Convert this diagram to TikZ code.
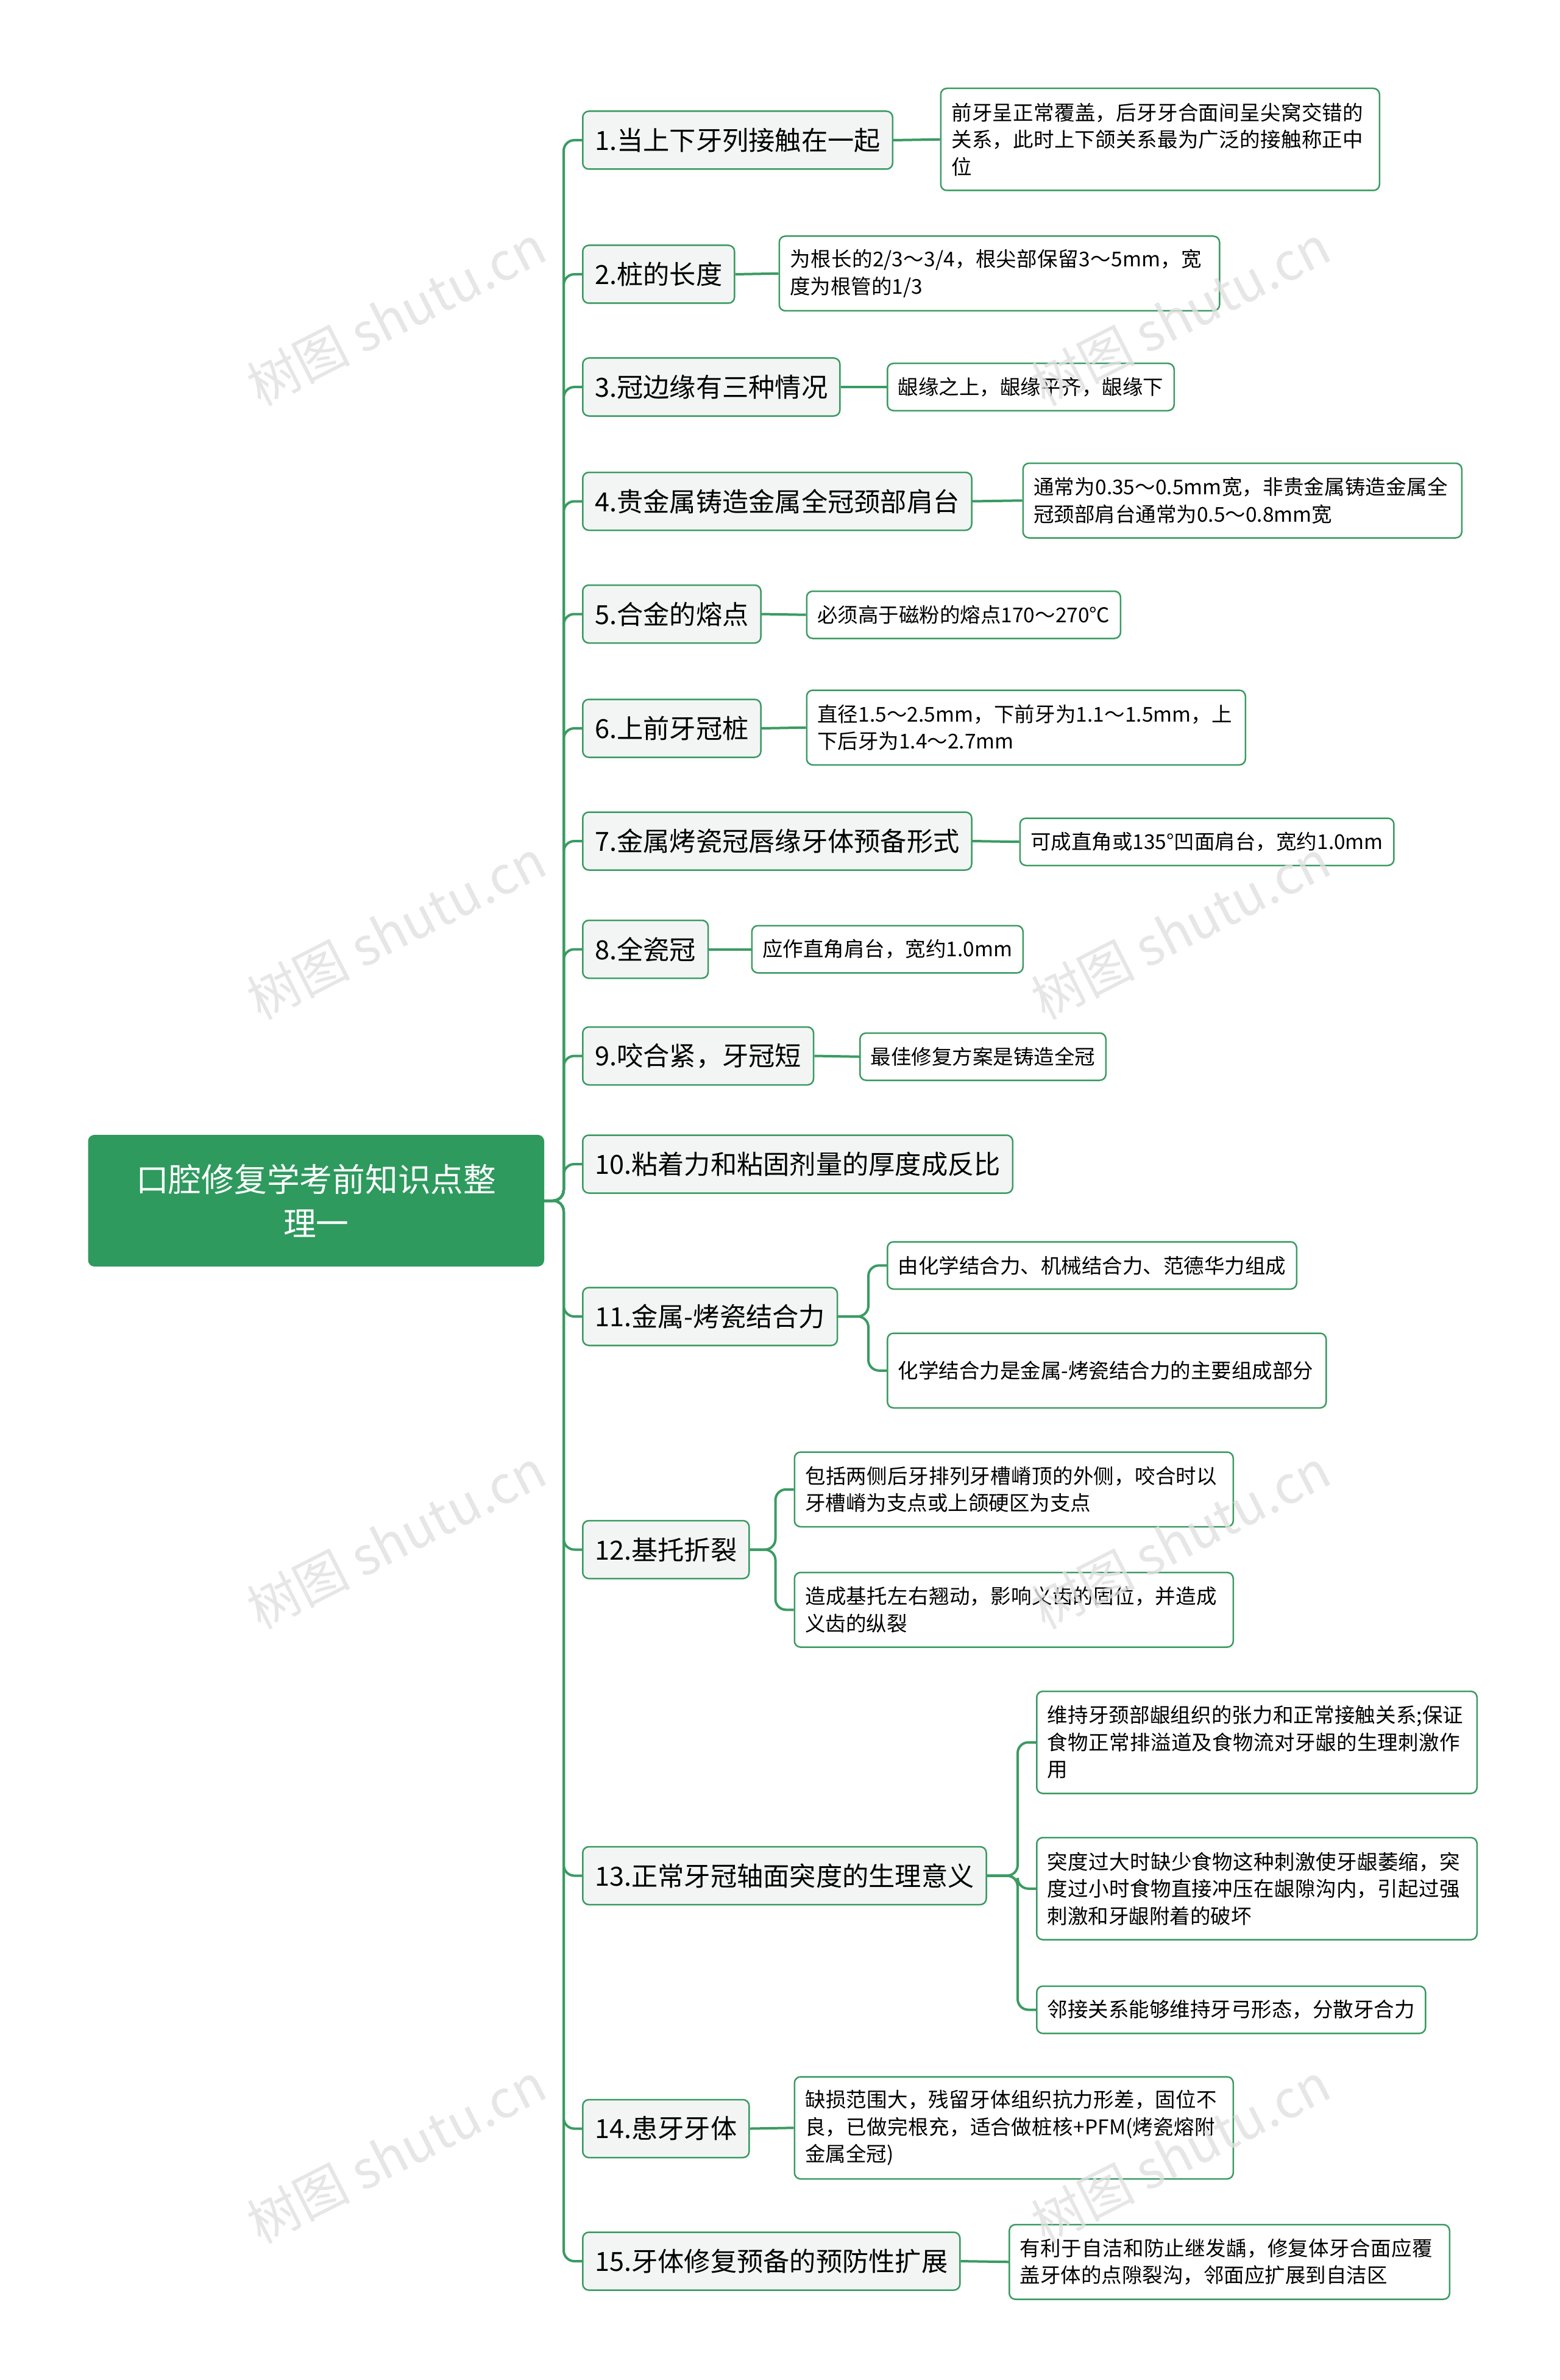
\documentclass[tikz,border=0pt]{standalone}
\usepackage{fontspec}
\setmainfont{Noto Sans CJK SC}
\XeTeXlinebreaklocale "zh"
\XeTeXlinebreakskip=0pt plus 1pt
\begin{document}
\begin{tikzpicture}[x=1pt,y=-1pt,
  rootbox/.style={fill=rootg, draw=rootg, rounded corners=4pt, text=white, font=\fontsize{21.5}{29}\selectfont, align=center, inner sep=0pt},
  brbox/.style={fill=brg, draw=lineg, line width=1pt, rounded corners=4pt, font=\fontsize{17.3}{21}\selectfont, anchor=west, inner xsep=8pt, minimum height=38pt},
  lfbox/.style={fill=white, draw=lineg, line width=1pt, rounded corners=4pt, font=\fontsize{13.4}{17.8}\selectfont, anchor=west, inner xsep=7pt, inner ysep=4pt, align=left},
  wm/.style={text=black!12, font=\fontsize{34}{34}\selectfont, rotate=27}]
\definecolor{rootg}{HTML}{2E9A5E}
\definecolor{lineg}{HTML}{3A9B62}
\definecolor{brg}{HTML}{F3F5F5}
\tikzset{conn/.style={draw=lineg, line width=1.6pt, rounded corners=7pt}}
\useasboundingbox (0,0) rectangle (1024,1562);
\fill[white] (0,0) rectangle (1024,1562);
\node[rootbox, minimum width=299pt, minimum height=86pt] (root) at (207.5,788) {口腔修复学考前知识点整\\理一};
\node[brbox] (b1) at (382,92) {1.当上下牙列接触在一起};
\node[brbox] (b2) at (382,180) {2.桩的长度};
\node[brbox] (b3) at (382,254) {3.冠边缘有三种情况};
\node[brbox] (b4) at (382,329) {4.贵金属铸造金属全冠颈部肩台};
\node[brbox] (b5) at (382,403) {5.合金的熔点};
\node[brbox] (b6) at (382,478) {6.上前牙冠桩};
\node[brbox] (b7) at (382,552) {7.金属烤瓷冠唇缘牙体预备形式};
\node[brbox] (b8) at (382,623) {8.全瓷冠};
\node[brbox] (b9) at (382,693) {9.咬合紧，牙冠短};
\node[brbox] (b10) at (382,764) {10.粘着力和粘固剂量的厚度成反比};
\node[brbox] (b11) at (382,864) {11.金属-烤瓷结合力};
\node[brbox] (b12) at (382,1017) {12.基托折裂};
\node[brbox] (b13) at (382,1231) {13.正常牙冠轴面突度的生理意义};
\node[brbox] (b14) at (382,1397) {14.患牙牙体};
\node[brbox] (b15) at (382,1484) {15.牙体修复预备的预防性扩展};
\foreach \i in {1,...,15}{\draw[conn] (root.east) -- (370,788) |- (b\i.west);}
\node[lfbox, text width=274pt, minimum height=67pt] (l1) at (617,91.5) {前牙呈正常覆盖，后牙牙合面间呈尖窝交错的关系，此时上下颌关系最为广泛的接触称正中位};
\node[lfbox, text width=275pt, minimum height=49pt] (l2) at (511,179.5) {为根长的2/3～3/4，根尖部保留3～5mm，宽度为根管的1/3};
\node[lfbox, minimum height=31pt] (l3) at (582,254) {龈缘之上，龈缘平齐，龈缘下};
\node[lfbox, text width=274pt, minimum height=49pt] (l4) at (671,328.5) {通常为0.35～0.5mm宽，非贵金属铸造金属全冠颈部肩台通常为0.5～0.8mm宽};
\node[lfbox, minimum height=31pt] (l5) at (529,403.5) {必须高于磁粉的熔点170～270℃};
\node[lfbox, text width=274pt, minimum height=49pt] (l6) at (529,477.5) {直径1.5～2.5mm，下前牙为1.1～1.5mm，上下后牙为1.4～2.7mm};
\node[lfbox, minimum height=31pt] (l7) at (669,552.5) {可成直角或135°凹面肩台，宽约1.0mm};
\node[lfbox, minimum height=31pt] (l8) at (493,623) {应作直角肩台，宽约1.0mm};
\node[lfbox, minimum height=31pt] (l9) at (564,693.5) {最佳修复方案是铸造全冠};
\node[lfbox, minimum height=31pt] (l11a) at (582,830.5) {由化学结合力、机械结合力、范德华力组成};
\node[lfbox, text width=274pt, minimum height=49pt] (l11b) at (582,899.5) {化学结合力是金属-烤瓷结合力的主要组成部分};
\node[lfbox, text width=274pt, minimum height=49pt] (l12a) at (521,977.5) {包括两侧后牙排列牙槽嵴顶的外侧，咬合时以牙槽嵴为支点或上颌硬区为支点};
\node[lfbox, text width=274pt, minimum height=49pt] (l12b) at (521,1056.5) {造成基托左右翘动，影响义齿的固位，并造成义齿的纵裂};
\node[lfbox, text width=275pt, minimum height=67pt] (l13a) at (680,1143.5) {维持牙颈部龈组织的张力和正常接触关系;保证食物正常排溢道及食物流对牙龈的生理刺激作用};
\node[lfbox, text width=275pt, minimum height=67pt] (l13b) at (680,1239.5) {突度过大时缺少食物这种刺激使牙龈萎缩，突度过小时食物直接冲压在龈隙沟内，引起过强刺激和牙龈附着的破坏};
\node[lfbox, minimum height=31pt] (l13c) at (680,1319) {邻接关系能够维持牙弓形态，分散牙合力};
\node[lfbox, text width=274pt, minimum height=67pt] (l14) at (521,1396.5) {缺损范围大，残留牙体组织抗力形差，固位不良，已做完根充，适合做桩核+PFM(烤瓷熔附金属全冠)};
\node[lfbox, text width=275pt, minimum height=49pt] (l15) at (662,1484.5) {有利于自洁和防止继发龋，修复体牙合面应覆盖牙体的点隙裂沟，邻面应扩展到自洁区};
\foreach \i in {1,...,9,14,15}{\draw[conn] (b\i.east) -- (l\i.west);}
\draw[conn] (b11.east) -- (570,864) |- (l11a.west);
\draw[conn] (b11.east) -- (570,864) |- (l11b.west);
\draw[conn] (b12.east) -- (509,1017) |- (l12a.west);
\draw[conn] (b12.east) -- (509,1017) |- (l12b.west);
\draw[conn] (b13.east) -- (668,1231) |- (l13a.west);
\draw[conn] (b13.east) -- (668,1231) |- (l13b.west);
\draw[conn] (b13.east) -- (668,1231) |- (l13c.west);
\foreach \x in {260,775}{\foreach \y in {207,610,1010,1413}{\node[wm, opacity=0.8] at (\x,\y) {树图 shutu.cn};}}
\end{tikzpicture}
\end{document}
